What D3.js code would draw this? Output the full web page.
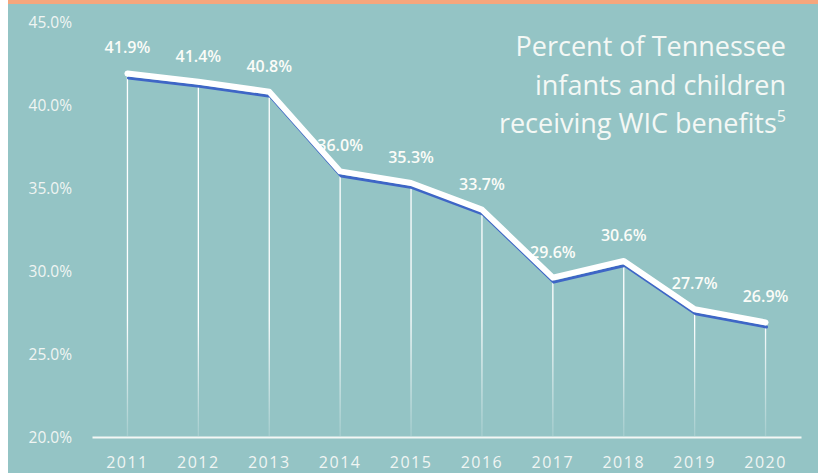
<!DOCTYPE html>
<html>
<head>
<meta charset="utf-8">
<script src="https://cdn.jsdelivr.net/npm/d3@7"></script>
<style>
  body { margin: 0; background: #fff; }
  svg text { font-family: "Open Sans", "Noto Sans", sans-serif; }
</style>
</head>
<body>
<div class="canvas"></div>
<script>
const years = ['2011', '2012', '2013', '2014', '2015', '2016', '2017', '2018', '2019', '2020'];
const values = [41.9, 41.4, 40.8, 36.0, 35.3, 33.7, 29.6, 30.6, 27.7, 26.9];
const yTicks = [20, 25, 30, 35, 40, 45];
const titleLines = ['Percent of Tennessee', 'infants and children', 'receiving WIC benefits'];

const width = 818, height = 473;
const data = years.map((y, i) => ({ year: y, value: values[i] }));

const svg = d3.select('.canvas')
    .append('svg')
    .attr('width', width)
    .attr('height', height);

// panel + orange strip
svg.append('rect')
    .attr('x', 8).attr('y', 0).attr('width', width - 8).attr('height', height)
    .attr('fill', '#94c4c5');
svg.append('rect')
    .attr('x', 8).attr('y', 0).attr('width', width - 8).attr('height', 4)
    .attr('fill', '#f6a67c');

const defs = svg.append('defs');
const grad = defs.append('linearGradient')
    .attr('id', 'dropFade')
    .attr('gradientUnits', 'userSpaceOnUse')
    .attr('x1', 0).attr('y1', 320).attr('x2', 0).attr('y2', 437);
grad.append('stop').attr('offset', '0%').attr('stop-color', '#fff').attr('stop-opacity', 1);
grad.append('stop').attr('offset', '100%').attr('stop-color', '#fff').attr('stop-opacity', 0.15);

const xScale = d3.scaleBand()
    .domain(years)
    .range([92, 801])
    .padding(0);

const yScale = d3.scaleLinear()
    .domain([20, 45])
    .range([437, 22]);

const cx = d => xScale(d.year) + xScale.bandwidth() / 2;

// y axis labels
const yAxis = d3.axisLeft(yScale)
    .tickValues(yTicks)
    .tickSize(0)
    .tickPadding(0)
    .tickFormat(d => d3.format('.1f')(d) + '%');

svg.append('g')
    .attr('transform', 'translate(72,0)')
    .call(yAxis)
    .call(g => g.select('.domain').remove())
    .call(g => g.selectAll('text')
        .attr('fill', '#f0f5f3')
        .attr('font-size', 15.5)
        .attr('dy', '0.35em'));

// x axis
const xAxis = d3.axisBottom(xScale).tickSize(0).tickPadding(0);
svg.append('g')
    .attr('transform', 'translate(0,437)')
    .call(xAxis)
    .call(g => g.select('.domain')
        .attr('stroke', '#f4f7f5')
        .attr('stroke-width', 2))
    .call(g => g.selectAll('text')
        .attr('fill', '#f0f5f3')
        .attr('font-size', 16)
        .attr('letter-spacing', 1.5)
        .attr('y', 31)
        .attr('dy', 0));

// drop lines
svg.selectAll('.drop')
    .data(data)
    .enter()
    .append('line')
    .attr('class', 'drop')
    .attr('x1', cx).attr('x2', cx)
    .attr('y1', d => yScale(d.value))
    .attr('y2', 436)
    .attr('stroke', 'url(#dropFade)')
    .attr('stroke-width', 1.3);

// value labels (under the line)
svg.selectAll('.lbl')
    .data(data)
    .enter()
    .append('text')
    .attr('class', 'lbl')
    .attr('x', cx)
    .attr('y', d => yScale(d.value) - 20)
    .attr('text-anchor', 'middle')
    .attr('fill', '#fbfcf8')
    .attr('font-size', 16)
    .attr('font-weight', 600)
    .text(d => d3.format('.1f')(d.value) + '%');

const line = d3.line()
    .x(cx)
    .y(d => yScale(d.value));

// blue series line, sitting just under the white glow line
svg.append('path')
    .datum(data)
    .attr('d', line)
    .attr('transform', 'translate(1,4.5)')
    .attr('fill', 'none')
    .attr('stroke', '#3e66c6')
    .attr('stroke-width', 3)
    .attr('stroke-linejoin', 'round')
    .attr('stroke-linecap', 'round');

svg.append('path')
    .datum(data)
    .attr('d', line)
    .attr('fill', 'none')
    .attr('stroke', '#ffffff')
    .attr('stroke-width', 6)
    .attr('stroke-linejoin', 'round')
    .attr('stroke-linecap', 'round');

// title
const title = svg.append('text')
    .attr('text-anchor', 'end')
    .attr('fill', '#f4f8f5')
    .attr('font-size', 27);
titleLines.forEach((t, i) => {
    const ts = title.append('tspan')
        .attr('x', 786)
        .attr('y', 56 + i * 38.5)
        .text(t);
    if (i === titleLines.length - 1) {
        ts.append('tspan')
            .attr('font-size', 16)
            .attr('dy', -11)
            .text('5');
    }
});
</script>
</body>
</html>
